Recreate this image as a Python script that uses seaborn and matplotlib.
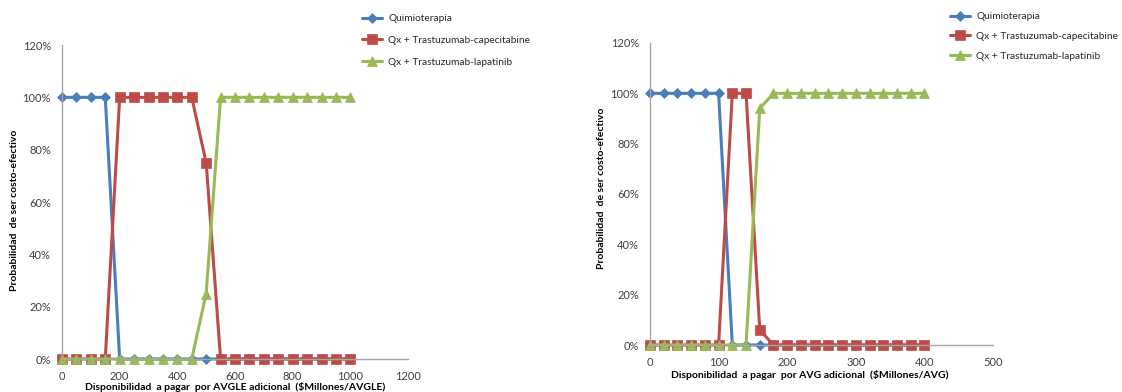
import numpy as np
import pandas as pd
import seaborn as sns
import matplotlib
matplotlib.use('Agg')
import matplotlib.pyplot as plt
from matplotlib.ticker import PercentFormatter

# Data -----------------------------------------------------------------------------------------------
series_names = ['Quimioterapia', 'Qx + Trastuzumab-capecitabine', 'Qx + Trastuzumab-lapatinib']

# Left panel: $Millones/AVGLE
wtp_avgle = [0, 50, 100, 150, 200, 250, 300, 350, 400, 450, 500,
             550, 600, 650, 700, 750, 800, 850, 900, 950, 1000]
quimio_avgle = [1, 1, 1, 1, 0, 0, 0, 0, 0, 0, 0,
                0, 0, 0, 0, 0, 0, 0, 0, 0, 0]
capecit_avgle = [0, 0, 0, 0, 1, 1, 1, 1, 1, 1, 0.75,
                 0, 0, 0, 0, 0, 0, 0, 0, 0, 0]
lapat_avgle = [0, 0, 0, 0, 0, 0, 0, 0, 0, 0, 0.25,
               1, 1, 1, 1, 1, 1, 1, 1, 1, 1]

# Right panel: $Millones/AVG
wtp_avg = [0, 20, 40, 60, 80, 100, 120, 140, 160, 180, 200,
           220, 240, 260, 280, 300, 320, 340, 360, 380, 400]
quimio_avg = [1, 1, 1, 1, 1, 1, 0, 0, 0, 0, 0,
              0, 0, 0, 0, 0, 0, 0, 0, 0, 0]
capecit_avg = [0, 0, 0, 0, 0, 0, 1, 1, 0.06, 0, 0,
               0, 0, 0, 0, 0, 0, 0, 0, 0, 0]
lapat_avg = [0, 0, 0, 0, 0, 0, 0, 0, 0.94, 1, 1,
             1, 1, 1, 1, 1, 1, 1, 1, 1, 1]

colors = ['#4A7EBB', '#BE4B48', '#98B954']
markers = ['D', 's', '^']
msizes = [5.5, 6.5, 6.5]

sns.set_style('white')
plt.rcParams['font.family'] = ['Lato', 'DejaVu Sans']

W, H = 1122, 392
fig = plt.figure(figsize=(W / 100, H / 100), dpi=100)


def px_axes(x0, x1, ytop, ybot):
    return fig.add_axes([x0 / W, (H - ybot) / H, (x1 - x0) / W, (ybot - ytop) / H])


def draw_panel(ax, x, ys, xmax, xstep, xlabel, xlab_pos, ylab_pos, legend_anchor, lspacing, xpad):
    for name, y, c, m, ms in zip(series_names, ys, colors, markers, msizes):
        df = pd.DataFrame({'x': x, 'y': y})
        sns.lineplot(data=df, x='x', y='y', ax=ax, color=c, linewidth=2.2, marker=m,
                     markersize=ms, markeredgecolor=c, markeredgewidth=0.5, label=name,
                     clip_on=False)
    ax.set_xlim(0, xmax)
    ax.set_ylim(0, 1.2)
    ax.set_xticks(np.arange(0, xmax + 1, xstep))
    ax.set_yticks(np.arange(0, 1.21, 0.2))
    ax.yaxis.set_major_formatter(PercentFormatter(1.0, decimals=0))
    for s in ['top', 'right']:
        ax.spines[s].set_visible(False)
    for s in ['left', 'bottom']:
        ax.spines[s].set_color('#A6A6A6')
        ax.spines[s].set_linewidth(1.0)
    ax.tick_params(axis='both', length=0, labelsize=8, colors='#404040')
    ax.tick_params(axis='x', pad=xpad)
    ax.tick_params(axis='y', pad=8)
    ax.set_xlabel(xlabel, fontsize=7.5, fontweight='bold', color='black')
    ax.xaxis.set_label_coords(*xlab_pos)
    ax.set_ylabel('Probabilidad  de ser costo-efectivo', fontsize=7.5, fontweight='bold',
                  color='black')
    ax.yaxis.set_label_coords(*ylab_pos)
    ax.legend(loc='upper left', bbox_to_anchor=(legend_anchor[0] / W, 1 - legend_anchor[1] / H),
              bbox_transform=fig.transFigure, frameon=False, fontsize=7.3, borderpad=0,
              borderaxespad=0, handlelength=2.0, handletextpad=0.6, labelspacing=lspacing,
              numpoints=1)


ax1 = px_axes(62, 408, 45, 359)
draw_panel(ax1, wtp_avgle, [quimio_avgle, capecit_avgle, lapat_avgle], 1200, 200,
           'Disponibilidad  a pagar  por AVGLE adicional  ($Millones/AVGLE)',
           (0.5, -0.074), (-0.125, 0.475), (362, 14), 1.25, 9)

ax2 = px_axes(650, 993, 43, 345)
draw_panel(ax2, wtp_avg, [quimio_avg, capecit_avg, lapat_avg], 500, 100,
           'Disponibilidad  a pagar  por AVG adicional  ($Millones/AVG)',
           (0.466, -0.082), (-0.128, 0.52), (950, 12), 1.05, 8.5)

plt.savefig('out.png', dpi=100)
